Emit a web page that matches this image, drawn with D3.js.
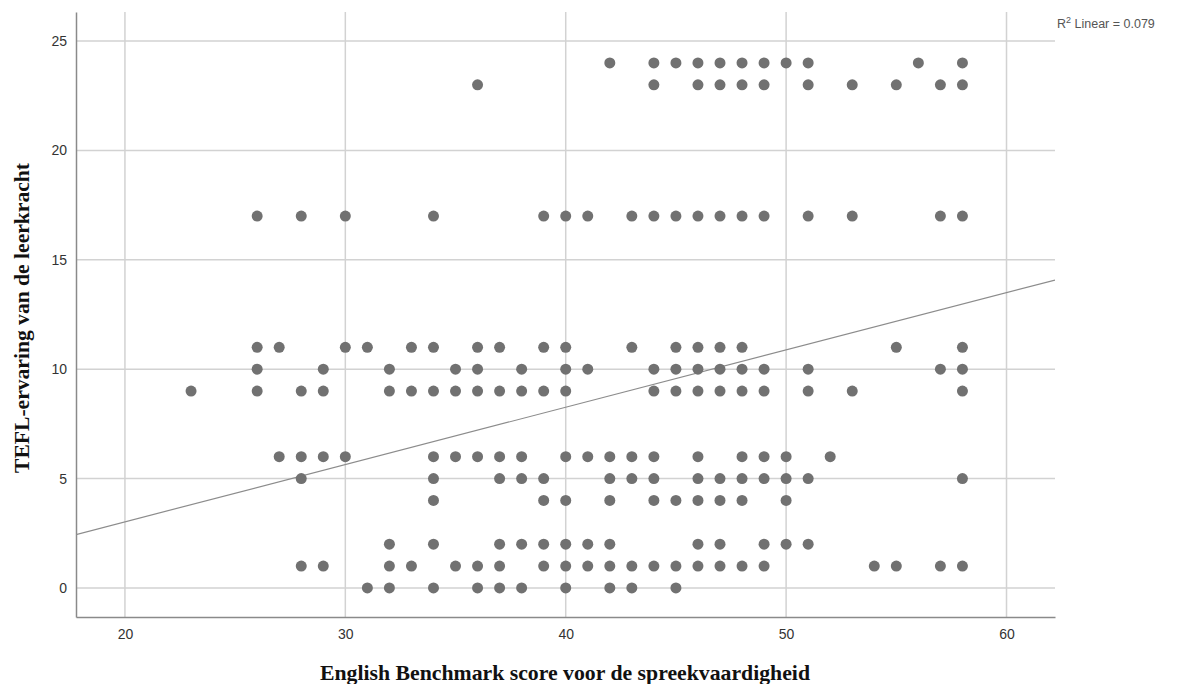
<!DOCTYPE html>
<html>
<head>
<meta charset="utf-8">
<script src="https://cdn.jsdelivr.net/npm/d3@7"></script>
<style>
  body { margin: 0; background: #fff; }
  svg { display: block; }
</style>
</head>
<body>
<svg id="chart" width="1182" height="684"></svg>
<script>
// TEFL experience levels (y) and the benchmark scores (x) found at each level
const teflLevels = [24, 23, 17, 11, 10, 9, 6, 5, 4, 2, 1, 0];
const scoresAt24 = [42, 44, 45, 46, 47, 48, 49, 50, 51, 56, 58];
const scoresAt23 = [36, 44, 46, 47, 48, 49, 51, 53, 55, 57, 58];
const scoresAt17 = [26, 28, 30, 34, 39, 40, 41, 43, 44, 45, 46, 47, 48, 49, 51, 53, 57, 58];
const scoresAt11 = [26, 27, 30, 31, 33, 34, 36, 37, 39, 40, 43, 45, 46, 47, 48, 55, 58];
const scoresAt10 = [26, 29, 32, 35, 36, 38, 40, 41, 44, 45, 46, 47, 48, 49, 51, 57, 58];
const scoresAt9 = [23, 26, 28, 29, 32, 33, 34, 35, 36, 37, 38, 39, 40, 44, 45, 46, 47, 48, 49, 51, 53, 58];
const scoresAt6 = [27, 28, 29, 30, 34, 35, 36, 37, 38, 40, 41, 42, 43, 44, 46, 48, 49, 50, 52];
const scoresAt5 = [28, 34, 37, 38, 39, 42, 43, 44, 46, 47, 48, 49, 50, 51, 58];
const scoresAt4 = [34, 39, 40, 42, 44, 45, 46, 47, 48, 50];
const scoresAt2 = [32, 34, 37, 38, 39, 40, 41, 42, 46, 47, 49, 50, 51];
const scoresAt1 = [28, 29, 32, 33, 35, 36, 37, 39, 40, 41, 42, 43, 44, 45, 46, 47, 48, 49, 54, 55, 57, 58];
const scoresAt0 = [31, 32, 34, 36, 37, 38, 40, 42, 43, 45];
const scoreRows = [scoresAt24, scoresAt23, scoresAt17, scoresAt11, scoresAt10, scoresAt9,
  scoresAt6, scoresAt5, scoresAt4, scoresAt2, scoresAt1, scoresAt0];

const xTicks = [20, 30, 40, 50, 60];
const yTicks = [0, 5, 10, 15, 20, 25];

// linear fit as shown in the chart
const fitIntercept = -2.22;
const fitSlope = 0.262;
const rSquared = "0.079";

const points = teflLevels.flatMap((lvl, i) => scoreRows[i].map(s => ({ score: s, tefl: lvl })));

const svg = d3.select("#chart");
const width = +svg.attr("width");
const height = +svg.attr("height");
const margin = { top: 12, right: 127, bottom: 67, left: 76 };
const plotWidth = width - margin.left - margin.right;
const plotHeight = height - margin.top - margin.bottom;

const g = svg.append("g")
  .attr("transform", `translate(${margin.left},${margin.top})`);

const x = d3.scaleLinear().domain([17.78, 62.2]).range([0, plotWidth]);
const y = d3.scaleLinear().domain([-1.33, 26.33]).range([plotHeight, 0]);

// grid
g.append("g")
  .selectAll("line")
  .data(yTicks)
  .join("line")
  .attr("x1", 0)
  .attr("x2", plotWidth)
  .attr("y1", d => y(d))
  .attr("y2", d => y(d))
  .attr("stroke", "#d2d2d2")
  .attr("stroke-width", 1.5);

g.append("g")
  .selectAll("line")
  .data(xTicks)
  .join("line")
  .attr("x1", d => x(d))
  .attr("x2", d => x(d))
  .attr("y1", 0)
  .attr("y2", plotHeight)
  .attr("stroke", "#d2d2d2")
  .attr("stroke-width", 1.5);

// axes
const xAxis = g.append("g")
  .attr("transform", `translate(0,${plotHeight})`)
  .call(d3.axisBottom(x).tickValues(xTicks).tickSize(0).tickPadding(12));
const yAxis = g.append("g")
  .call(d3.axisLeft(y).tickValues(yTicks).tickSize(0).tickPadding(9));

[xAxis, yAxis].forEach(a => {
  a.select(".domain").attr("stroke", "#8a8a8a").attr("stroke-width", 1.5);
  a.selectAll("text")
    .attr("font-family", "Liberation Sans, Arial, sans-serif")
    .attr("font-size", "14px")
    .attr("fill", "#333");
});

// fit line, clipped to the plot
svg.append("clipPath").attr("id", "plotClip")
  .append("rect").attr("width", plotWidth).attr("height", plotHeight);

const xs = x.domain();
g.append("line")
  .attr("clip-path", "url(#plotClip)")
  .attr("x1", x(xs[0]))
  .attr("y1", y(fitIntercept + fitSlope * xs[0]))
  .attr("x2", x(xs[1]))
  .attr("y2", y(fitIntercept + fitSlope * xs[1]))
  .attr("stroke", "#8c8c8c")
  .attr("stroke-width", 1.2);

// points
g.selectAll(".dot")
  .data(points)
  .join("circle")
  .attr("class", "dot")
  .attr("cx", d => x(d.score))
  .attr("cy", d => y(d.tefl))
  .attr("r", 5.5)
  .attr("fill", "#717171");

// R² label
const r2 = svg.append("text")
  .attr("x", margin.left + plotWidth + 2)
  .attr("y", 28)
  .attr("font-family", "Liberation Sans, Arial, sans-serif")
  .attr("font-size", "12.5px")
  .attr("fill", "#555");
r2.append("tspan").text("R");
r2.append("tspan").attr("dy", -5).attr("font-size", "9px").text("2");
r2.append("tspan").attr("dy", 5).text(` Linear = ${rSquared}`);

// axis titles
svg.append("text")
  .attr("x", 565)
  .attr("y", 680)
  .attr("text-anchor", "middle")
  .attr("font-family", "Liberation Serif, Times New Roman, serif")
  .attr("font-weight", "bold")
  .attr("font-size", "21px")
  .attr("textLength", 490)
  .attr("lengthAdjust", "spacingAndGlyphs")
  .attr("fill", "#111")
  .text("English Benchmark score voor de spreekvaardigheid");

svg.append("text")
  .attr("transform", "rotate(-90)")
  .attr("x", -318)
  .attr("y", 29)
  .attr("text-anchor", "middle")
  .attr("font-family", "Liberation Serif, Times New Roman, serif")
  .attr("font-weight", "bold")
  .attr("font-size", "21px")
  .attr("textLength", 310)
  .attr("lengthAdjust", "spacingAndGlyphs")
  .attr("fill", "#111")
  .text("TEFL-ervaring van de leerkracht");
</script>
</body>
</html>
